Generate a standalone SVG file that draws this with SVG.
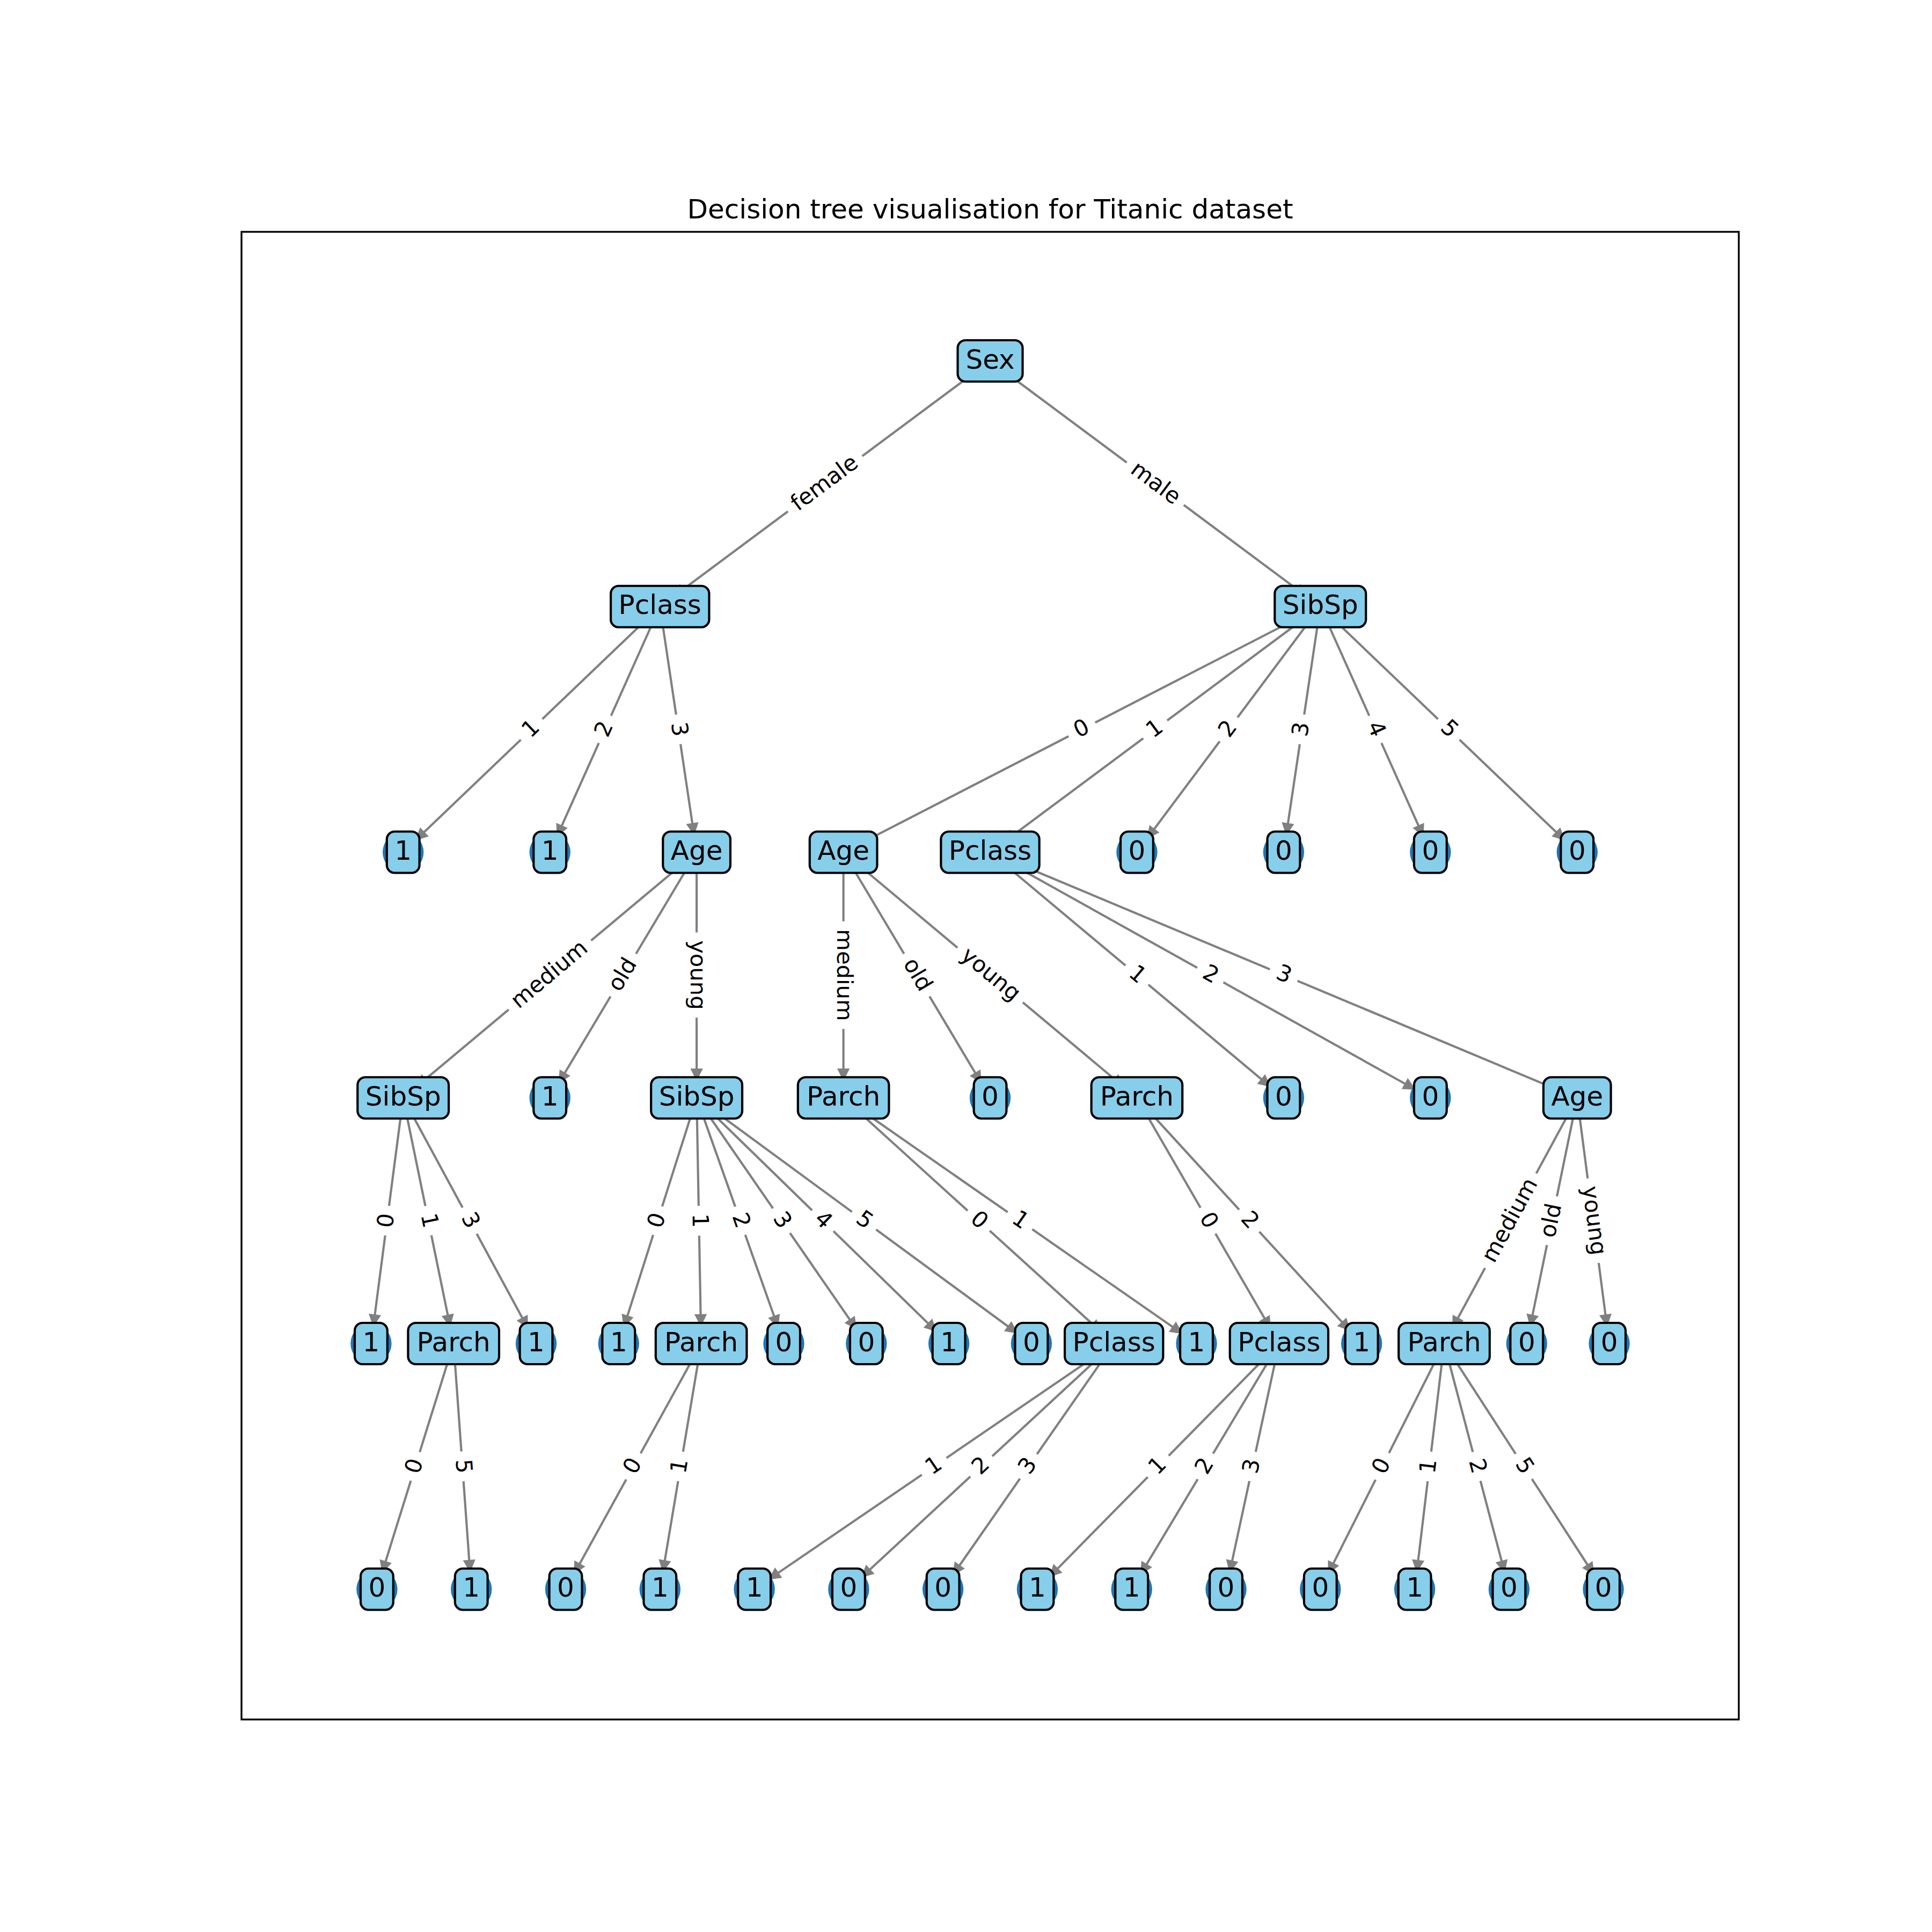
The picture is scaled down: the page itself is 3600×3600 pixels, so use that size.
<svg xmlns="http://www.w3.org/2000/svg" xmlns:xlink="http://www.w3.org/1999/xlink" width="3600" height="3600" viewBox="0 0 3600 3600">
  <style>
    .edge { fill: none; stroke: #808080; stroke-width: 4.17; marker-end: url(#arrow); }
    .head { fill: #808080; stroke: #808080; stroke-width: 4.17; stroke-linejoin: miter; }
    .dot { fill: #1f77b4; }
    .box { fill: #87ceeb; stroke: #000000; stroke-width: 4.17; }
    .nt { font-family: "DejaVu Sans", "Liberation Sans", sans-serif; font-size: 50px; text-anchor: middle; fill: #000000; }
    .lbg { fill: #ffffff; stroke: #ffffff; stroke-width: 4.17; }
    .lt { font-family: "DejaVu Sans", "Liberation Sans", sans-serif; font-size: 41.67px; text-anchor: middle; fill: #000000; }
    .title { font-family: "DejaVu Sans", "Liberation Sans", sans-serif; font-size: 50px; text-anchor: middle; fill: #000000; }
    .frame { fill: none; stroke: #000000; stroke-width: 3.33; }
  </style>
  <defs>
    <marker id="arrow" markerUnits="userSpaceOnUse" viewBox="-25 -15 30 30" markerWidth="30" markerHeight="30" refX="0" refY="0" orient="auto" overflow="visible">
      <path class="head" d="M-16.7,-8.33 L0,0 L-16.7,8.33 Z"/>
    </marker>
    <!-- node boxes, sized to their label -->
    <rect id="b-sex" class="box" x="-60.5" y="-38.5" width="121" height="77" rx="14.5"/>
    <rect id="b-pclass" class="box" x="-91.65" y="-38.5" width="183.3" height="77" rx="14.5"/>
    <rect id="b-sibsp" class="box" x="-84.95" y="-38.5" width="169.9" height="77" rx="14.5"/>
    <rect id="b-age" class="box" x="-62.85" y="-38.5" width="125.7" height="77" rx="14.5"/>
    <rect id="b-parch" class="box" x="-84.8" y="-38.5" width="169.6" height="77" rx="14.5"/>
    <rect id="b-leaf" class="box" x="-30.4" y="-38.5" width="60.8" height="77" rx="14.5"/>
    <!-- white backgrounds behind edge labels -->
    <rect id="l-d" class="lbg" x="-25.75" y="-32.5" width="51.5" height="65" rx="12.5"/>
    <rect id="l-female" class="lbg" x="-84.3" y="-32.5" width="168.6" height="65" rx="12.5"/>
    <rect id="l-male" class="lbg" x="-64.15" y="-32.5" width="128.3" height="65" rx="12.5"/>
    <rect id="l-medium" class="lbg" x="-98.15" y="-32.5" width="196.3" height="65" rx="12.5"/>
    <rect id="l-old" class="lbg" x="-44.25" y="-32.5" width="88.5" height="65" rx="12.5"/>
    <rect id="l-young" class="lbg" x="-77.25" y="-32.5" width="154.5" height="65" rx="12.5"/>
  </defs>

  <rect x="0" y="0" width="3600" height="3600" fill="#ffffff"/>
  <text class="title" x="1845" y="407">Decision tree visualisation for Titanic dataset</text>
  <rect class="frame" x="450" y="432" width="2790" height="2772"/>

  <g id="connectors">
    <path class="edge" d="M1845,672.5 L1258.6,1108.8"/>
    <path class="edge" d="M1845,672.5 L2431.4,1108.8"/>
    <path class="edge" d="M1229.75,1130.25 L777.2,1563.1"/>
    <path class="edge" d="M1229.75,1130.25 L1039.4,1555.1"/>
    <path class="edge" d="M1229.75,1130.25 L1292.8,1552.4"/>
    <path class="edge" d="M2460.25,1130.25 L1603.6,1571.5"/>
    <path class="edge" d="M2460.25,1130.25 L1873.9,1566.5"/>
    <path class="edge" d="M2460.25,1130.25 L2139.9,1559.2"/>
    <path class="edge" d="M2460.25,1130.25 L2397.2,1552.4"/>
    <path class="edge" d="M2460.25,1130.25 L2650.6,1555.1"/>
    <path class="edge" d="M2460.25,1130.25 L2912.8,1563.1"/>
    <path class="edge" d="M1298.1,1588 L778.8,2022.6"/>
    <path class="edge" d="M1298.1,1588 L1043.2,2014.8"/>
    <path class="edge" d="M1298.1,1588 L1298.1,2009.75"/>
    <path class="edge" d="M1571.6,1588 L1571.6,2009.75"/>
    <path class="edge" d="M1571.6,1588 L1826.5,2014.8"/>
    <path class="edge" d="M1571.6,1588 L2090.8,2022.6"/>
    <path class="edge" d="M1845,1588 L2364.3,2022.6"/>
    <path class="edge" d="M1845,1588 L2633.9,2028.2"/>
    <path class="edge" d="M1845,1588 L2905.6,2031.9"/>
    <path class="edge" d="M751.2,2045.75 L696.1,2467.8"/>
    <path class="edge" d="M751.2,2045.75 L838.0,2468.2"/>
    <path class="edge" d="M751.2,2045.75 L981.9,2471.8"/>
    <path class="edge" d="M1298.1,2045.75 L1163.7,2469.2"/>
    <path class="edge" d="M1298.1,2045.75 L1305.9,2467.5"/>
    <path class="edge" d="M1298.1,2045.75 L1448.5,2469.6"/>
    <path class="edge" d="M1298.1,2045.75 L1593.8,2473.9"/>
    <path class="edge" d="M1298.1,2045.75 L1742.3,2478.4"/>
    <path class="edge" d="M1298.1,2045.75 L1892.9,2482.2"/>
    <path class="edge" d="M1571.6,2045.75 L2049.05,2479.3"/>
    <path class="edge" d="M1571.6,2045.75 L2199.95,2482.9"/>
    <path class="edge" d="M2118.4,2045.75 L2365.4,2472.3"/>
    <path class="edge" d="M2118.4,2045.75 L2512.9,2476.9"/>
    <path class="edge" d="M2938.8,2045.75 L2708.1,2471.8"/>
    <path class="edge" d="M2938.8,2045.75 L2852.0,2468.2"/>
    <path class="edge" d="M2938.8,2045.75 L2993.9,2467.8"/>
    <path class="edge" d="M845.2,2503.5 L713.1,2926.9"/>
    <path class="edge" d="M845.2,2503.5 L875.6,2925.3"/>
    <path class="edge" d="M1306.6,2503.5 L1071.4,2929.7"/>
    <path class="edge" d="M1306.6,2503.5 L1235.75,2925.75"/>
    <path class="edge" d="M2075.7,2503.5 L1435.3,2940.9"/>
    <path class="edge" d="M2075.7,2503.5 L1607.8,2936.8"/>
    <path class="edge" d="M2075.7,2503.5 L1777.7,2931.7"/>
    <path class="edge" d="M2383.4,2503.5 L1958.15,2935.6"/>
    <path class="edge" d="M2383.4,2503.5 L2127.2,2930.4"/>
    <path class="edge" d="M2383.4,2503.5 L2292.1,2926.1"/>
    <path class="edge" d="M2691.0,2503.5 L2476.5,2929.1"/>
    <path class="edge" d="M2691.0,2503.5 L2640.4,2925.5"/>
    <path class="edge" d="M2691.0,2503.5 L2802.7,2926.4"/>
    <path class="edge" d="M2691.0,2503.5 L2968.0,2931.0"/>
  </g>

  <g id="nodes">
    <g id="n0" transform="translate(1845,672.5)"><circle class="dot" r="38.2"/><use href="#b-sex"/><text class="nt" y="14">Sex</text></g>

    <g id="n1-0" transform="translate(1229.75,1130.25)"><circle class="dot" r="38.2"/><use href="#b-pclass"/><text class="nt" y="14">Pclass</text></g>
    <g id="n1-1" transform="translate(2460.25,1130.25)"><circle class="dot" r="38.2"/><use href="#b-sibsp"/><text class="nt" y="14">SibSp</text></g>

    <g id="n2-0" transform="translate(751.2,1588)"><circle class="dot" r="38.2"/><use href="#b-leaf"/><text class="nt" y="14">1</text></g>
    <g id="n2-1" transform="translate(1024.7,1588)"><circle class="dot" r="38.2"/><use href="#b-leaf"/><text class="nt" y="14">1</text></g>
    <g id="n2-2" transform="translate(1298.1,1588)"><circle class="dot" r="38.2"/><use href="#b-age"/><text class="nt" y="14">Age</text></g>
    <g id="n2-3" transform="translate(1571.6,1588)"><circle class="dot" r="38.2"/><use href="#b-age"/><text class="nt" y="14">Age</text></g>
    <g id="n2-4" transform="translate(1845,1588)"><circle class="dot" r="38.2"/><use href="#b-pclass"/><text class="nt" y="14">Pclass</text></g>
    <g id="n2-5" transform="translate(2118.4,1588)"><circle class="dot" r="38.2"/><use href="#b-leaf"/><text class="nt" y="14">0</text></g>
    <g id="n2-6" transform="translate(2391.9,1588)"><circle class="dot" r="38.2"/><use href="#b-leaf"/><text class="nt" y="14">0</text></g>
    <g id="n2-7" transform="translate(2665.3,1588)"><circle class="dot" r="38.2"/><use href="#b-leaf"/><text class="nt" y="14">0</text></g>
    <g id="n2-8" transform="translate(2938.8,1588)"><circle class="dot" r="38.2"/><use href="#b-leaf"/><text class="nt" y="14">0</text></g>

    <g id="n3-0" transform="translate(751.2,2045.75)"><circle class="dot" r="38.2"/><use href="#b-sibsp"/><text class="nt" y="14">SibSp</text></g>
    <g id="n3-1" transform="translate(1024.7,2045.75)"><circle class="dot" r="38.2"/><use href="#b-leaf"/><text class="nt" y="14">1</text></g>
    <g id="n3-2" transform="translate(1298.1,2045.75)"><circle class="dot" r="38.2"/><use href="#b-sibsp"/><text class="nt" y="14">SibSp</text></g>
    <g id="n3-3" transform="translate(1571.6,2045.75)"><circle class="dot" r="38.2"/><use href="#b-parch"/><text class="nt" y="14">Parch</text></g>
    <g id="n3-4" transform="translate(1845,2045.75)"><circle class="dot" r="38.2"/><use href="#b-leaf"/><text class="nt" y="14">0</text></g>
    <g id="n3-5" transform="translate(2118.4,2045.75)"><circle class="dot" r="38.2"/><use href="#b-parch"/><text class="nt" y="14">Parch</text></g>
    <g id="n3-6" transform="translate(2391.9,2045.75)"><circle class="dot" r="38.2"/><use href="#b-leaf"/><text class="nt" y="14">0</text></g>
    <g id="n3-7" transform="translate(2665.3,2045.75)"><circle class="dot" r="38.2"/><use href="#b-leaf"/><text class="nt" y="14">0</text></g>
    <g id="n3-8" transform="translate(2938.8,2045.75)"><circle class="dot" r="38.2"/><use href="#b-age"/><text class="nt" y="14">Age</text></g>

    <g id="n4-0" transform="translate(691.4,2503.5)"><circle class="dot" r="38.2"/><use href="#b-leaf"/><text class="nt" y="14">1</text></g>
    <g id="n4-1" transform="translate(845.2,2503.5)"><circle class="dot" r="38.2"/><use href="#b-parch"/><text class="nt" y="14">Parch</text></g>
    <g id="n4-2" transform="translate(999.0,2503.5)"><circle class="dot" r="38.2"/><use href="#b-leaf"/><text class="nt" y="14">1</text></g>
    <g id="n4-3" transform="translate(1152.8,2503.5)"><circle class="dot" r="38.2"/><use href="#b-leaf"/><text class="nt" y="14">1</text></g>
    <g id="n4-4" transform="translate(1306.6,2503.5)"><circle class="dot" r="38.2"/><use href="#b-parch"/><text class="nt" y="14">Parch</text></g>
    <g id="n4-5" transform="translate(1460.5,2503.5)"><circle class="dot" r="38.2"/><use href="#b-leaf"/><text class="nt" y="14">0</text></g>
    <g id="n4-6" transform="translate(1614.3,2503.5)"><circle class="dot" r="38.2"/><use href="#b-leaf"/><text class="nt" y="14">0</text></g>
    <g id="n4-7" transform="translate(1768.1,2503.5)"><circle class="dot" r="38.2"/><use href="#b-leaf"/><text class="nt" y="14">1</text></g>
    <g id="n4-8" transform="translate(1921.9,2503.5)"><circle class="dot" r="38.2"/><use href="#b-leaf"/><text class="nt" y="14">0</text></g>
    <g id="n4-9" transform="translate(2075.7,2503.5)"><circle class="dot" r="38.2"/><use href="#b-pclass"/><text class="nt" y="14">Pclass</text></g>
    <g id="n4-10" transform="translate(2229.5,2503.5)"><circle class="dot" r="38.2"/><use href="#b-leaf"/><text class="nt" y="14">1</text></g>
    <g id="n4-11" transform="translate(2383.4,2503.5)"><circle class="dot" r="38.2"/><use href="#b-pclass"/><text class="nt" y="14">Pclass</text></g>
    <g id="n4-12" transform="translate(2537.2,2503.5)"><circle class="dot" r="38.2"/><use href="#b-leaf"/><text class="nt" y="14">1</text></g>
    <g id="n4-13" transform="translate(2691.0,2503.5)"><circle class="dot" r="38.2"/><use href="#b-parch"/><text class="nt" y="14">Parch</text></g>
    <g id="n4-14" transform="translate(2844.8,2503.5)"><circle class="dot" r="38.2"/><use href="#b-leaf"/><text class="nt" y="14">0</text></g>
    <g id="n4-15" transform="translate(2998.6,2503.5)"><circle class="dot" r="38.2"/><use href="#b-leaf"/><text class="nt" y="14">0</text></g>

    <g id="n5-0" transform="translate(702.4,2961.25)"><circle class="dot" r="38.2"/><use href="#b-leaf"/><text class="nt" y="14">0</text></g>
    <g id="n5-1" transform="translate(878.2,2961.25)"><circle class="dot" r="38.2"/><use href="#b-leaf"/><text class="nt" y="14">1</text></g>
    <g id="n5-2" transform="translate(1054.0,2961.25)"><circle class="dot" r="38.2"/><use href="#b-leaf"/><text class="nt" y="14">0</text></g>
    <g id="n5-3" transform="translate(1229.8,2961.25)"><circle class="dot" r="38.2"/><use href="#b-leaf"/><text class="nt" y="14">1</text></g>
    <g id="n5-4" transform="translate(1405.6,2961.25)"><circle class="dot" r="38.2"/><use href="#b-leaf"/><text class="nt" y="14">1</text></g>
    <g id="n5-5" transform="translate(1581.4,2961.25)"><circle class="dot" r="38.2"/><use href="#b-leaf"/><text class="nt" y="14">0</text></g>
    <g id="n5-6" transform="translate(1757.1,2961.25)"><circle class="dot" r="38.2"/><use href="#b-leaf"/><text class="nt" y="14">0</text></g>
    <g id="n5-7" transform="translate(1932.9,2961.25)"><circle class="dot" r="38.2"/><use href="#b-leaf"/><text class="nt" y="14">1</text></g>
    <g id="n5-8" transform="translate(2108.7,2961.25)"><circle class="dot" r="38.2"/><use href="#b-leaf"/><text class="nt" y="14">1</text></g>
    <g id="n5-9" transform="translate(2284.5,2961.25)"><circle class="dot" r="38.2"/><use href="#b-leaf"/><text class="nt" y="14">0</text></g>
    <g id="n5-10" transform="translate(2460.3,2961.25)"><circle class="dot" r="38.2"/><use href="#b-leaf"/><text class="nt" y="14">0</text></g>
    <g id="n5-11" transform="translate(2636.1,2961.25)"><circle class="dot" r="38.2"/><use href="#b-leaf"/><text class="nt" y="14">1</text></g>
    <g id="n5-12" transform="translate(2811.9,2961.25)"><circle class="dot" r="38.2"/><use href="#b-leaf"/><text class="nt" y="14">0</text></g>
    <g id="n5-13" transform="translate(2987.6,2961.25)"><circle class="dot" r="38.2"/><use href="#b-leaf"/><text class="nt" y="14">0</text></g>
  </g>

  <g id="edge-labels">
    <g transform="translate(1537.4,901.4) rotate(-36.65)"><use href="#l-female"/><text class="lt" y="11.5">female</text></g>
    <g transform="translate(2152.6,901.4) rotate(36.65)"><use href="#l-male"/><text class="lt" y="11.5">male</text></g>
    <g transform="translate(990.5,1359.1) rotate(-43.73)"><use href="#l-d"/><text class="lt" y="11.5">1</text></g>
    <g transform="translate(1127.2,1359.1) rotate(-65.87)"><use href="#l-d"/><text class="lt" y="11.5">2</text></g>
    <g transform="translate(1263.9,1359.1) rotate(81.51)"><use href="#l-d"/><text class="lt" y="11.5">3</text></g>
    <g transform="translate(2015.9,1359.1) rotate(-27.25)"><use href="#l-d"/><text class="lt" y="11.5">0</text></g>
    <g transform="translate(2152.6,1359.1) rotate(-36.65)"><use href="#l-d"/><text class="lt" y="11.5">1</text></g>
    <g transform="translate(2289.3,1359.1) rotate(-53.25)"><use href="#l-d"/><text class="lt" y="11.5">2</text></g>
    <g transform="translate(2426.1,1359.1) rotate(-81.51)"><use href="#l-d"/><text class="lt" y="11.5">3</text></g>
    <g transform="translate(2562.8,1359.1) rotate(65.87)"><use href="#l-d"/><text class="lt" y="11.5">4</text></g>
    <g transform="translate(2699.5,1359.1) rotate(43.73)"><use href="#l-d"/><text class="lt" y="11.5">5</text></g>
    <g transform="translate(1024.7,1816.9) rotate(-39.92)"><use href="#l-medium"/><text class="lt" y="11.5">medium</text></g>
    <g transform="translate(1161.4,1816.9) rotate(-59.15)"><use href="#l-old"/><text class="lt" y="11.5">old</text></g>
    <g transform="translate(1298.1,1816.9) rotate(90)"><use href="#l-young"/><text class="lt" y="11.5">young</text></g>
    <g transform="translate(1571.6,1816.9) rotate(90)"><use href="#l-medium"/><text class="lt" y="11.5">medium</text></g>
    <g transform="translate(1708.3,1816.9) rotate(59.15)"><use href="#l-old"/><text class="lt" y="11.5">old</text></g>
    <g transform="translate(1845,1816.9) rotate(39.92)"><use href="#l-young"/><text class="lt" y="11.5">young</text></g>
    <g transform="translate(2118.45,1816.9) rotate(39.92)"><use href="#l-d"/><text class="lt" y="11.5">1</text></g>
    <g transform="translate(2255.15,1816.9) rotate(29.16)"><use href="#l-d"/><text class="lt" y="11.5">2</text></g>
    <g transform="translate(2391.9,1816.9) rotate(22.71)"><use href="#l-d"/><text class="lt" y="11.5">3</text></g>
    <g transform="translate(721.3,2274.6) rotate(-82.56)"><use href="#l-d"/><text class="lt" y="11.5">0</text></g>
    <g transform="translate(798.2,2274.6) rotate(78.40)"><use href="#l-d"/><text class="lt" y="11.5">1</text></g>
    <g transform="translate(875.1,2274.6) rotate(61.57)"><use href="#l-d"/><text class="lt" y="11.5">3</text></g>
    <g transform="translate(1225.45,2274.6) rotate(-72.39)"><use href="#l-d"/><text class="lt" y="11.5">0</text></g>
    <g transform="translate(1302.35,2274.6) rotate(88.94)"><use href="#l-d"/><text class="lt" y="11.5">1</text></g>
    <g transform="translate(1379.3,2274.6) rotate(70.46)"><use href="#l-d"/><text class="lt" y="11.5">2</text></g>
    <g transform="translate(1456.2,2274.6) rotate(55.37)"><use href="#l-d"/><text class="lt" y="11.5">3</text></g>
    <g transform="translate(1533.1,2274.6) rotate(44.24)"><use href="#l-d"/><text class="lt" y="11.5">4</text></g>
    <g transform="translate(1610.0,2274.6) rotate(36.27)"><use href="#l-d"/><text class="lt" y="11.5">5</text></g>
    <g transform="translate(1823.65,2274.6) rotate(42.24)"><use href="#l-d"/><text class="lt" y="11.5">0</text></g>
    <g transform="translate(1900.55,2274.6) rotate(34.83)"><use href="#l-d"/><text class="lt" y="11.5">1</text></g>
    <g transform="translate(2250.9,2274.6) rotate(59.93)"><use href="#l-d"/><text class="lt" y="11.5">0</text></g>
    <g transform="translate(2327.8,2274.6) rotate(47.54)"><use href="#l-d"/><text class="lt" y="11.5">2</text></g>
    <g transform="translate(2814.9,2274.6) rotate(-61.57)"><use href="#l-medium"/><text class="lt" y="11.5">medium</text></g>
    <g transform="translate(2891.8,2274.6) rotate(-78.40)"><use href="#l-old"/><text class="lt" y="11.5">old</text></g>
    <g transform="translate(2968.7,2274.6) rotate(82.56)"><use href="#l-young"/><text class="lt" y="11.5">young</text></g>
    <g transform="translate(773.8,2732.4) rotate(-72.67)"><use href="#l-d"/><text class="lt" y="11.5">0</text></g>
    <g transform="translate(861.7,2732.4) rotate(85.88)"><use href="#l-d"/><text class="lt" y="11.5">5</text></g>
    <g transform="translate(1180.3,2732.4) rotate(-61.11)"><use href="#l-d"/><text class="lt" y="11.5">0</text></g>
    <g transform="translate(1268.2,2732.4) rotate(-80.48)"><use href="#l-d"/><text class="lt" y="11.5">1</text></g>
    <g transform="translate(1740.65,2732.4) rotate(-34.34)"><use href="#l-d"/><text class="lt" y="11.5">1</text></g>
    <g transform="translate(1828.55,2732.4) rotate(-42.80)"><use href="#l-d"/><text class="lt" y="11.5">2</text></g>
    <g transform="translate(1916.4,2732.4) rotate(-55.16)"><use href="#l-d"/><text class="lt" y="11.5">3</text></g>
    <g transform="translate(2158.15,2732.4) rotate(-45.46)"><use href="#l-d"/><text class="lt" y="11.5">1</text></g>
    <g transform="translate(2246.05,2732.4) rotate(-59.03)"><use href="#l-d"/><text class="lt" y="11.5">2</text></g>
    <g transform="translate(2333.95,2732.4) rotate(-77.81)"><use href="#l-d"/><text class="lt" y="11.5">3</text></g>
    <g transform="translate(2575.65,2732.4) rotate(-63.25)"><use href="#l-d"/><text class="lt" y="11.5">0</text></g>
    <g transform="translate(2663.55,2732.4) rotate(-83.16)"><use href="#l-d"/><text class="lt" y="11.5">1</text></g>
    <g transform="translate(2751.45,2732.4) rotate(75.21)"><use href="#l-d"/><text class="lt" y="11.5">2</text></g>
    <g transform="translate(2839.3,2732.4) rotate(57.06)"><use href="#l-d"/><text class="lt" y="11.5">5</text></g>
  </g>
</svg>
